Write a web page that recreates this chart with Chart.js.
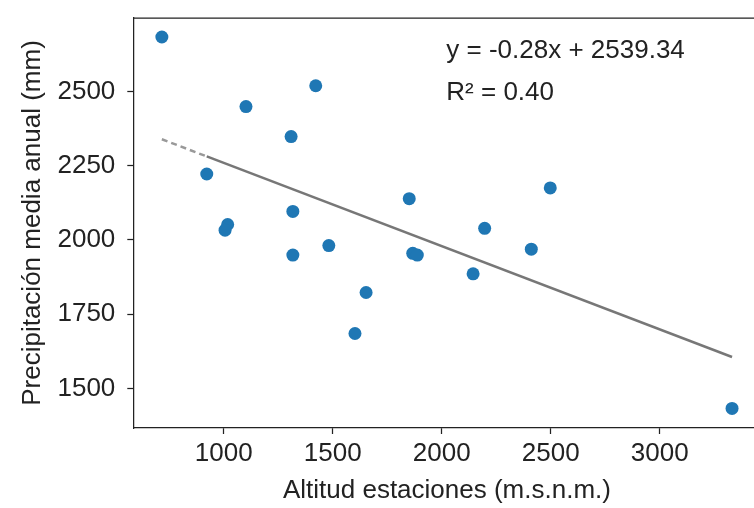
<!DOCTYPE html>
<html lang="es">
<head>
    <meta charset="UTF-8">
    <title>Precipitación vs altitud</title>
    <script src="https://cdn.jsdelivr.net/npm/chart.js"></script>
    <style>
        * { margin: 0; padding: 0; box-sizing: border-box; }
        html, body { width: 754px; height: 508px; overflow: hidden; background: #fff; }
        .chart-container { position: relative; width: 770px; height: 508px; }
    </style>
</head>
<body>
    <div class="chart-container">
        <canvas id="scatterChart"></canvas>
    </div>

    <script>
        // Estaciones: altitud (m.s.n.m.) y precipitación media anual (mm)
        const altitud = [716, 1422, 1102, 1309, 922, 1851, 1317, 1018, 1006, 1482,
                         1317, 1867, 1888, 1653, 1602, 2498, 2197, 2411, 2144, 3332];
        const precipitacion = [2683, 2519, 2449, 2348, 2222, 2139, 2096, 2052, 2033, 1981,
                               1949, 1955, 1949, 1823, 1685, 2175, 2039, 1969, 1886, 1433];

        // Recta de regresión
        const ajusteX = [716, 922, 3332];
        const ajusteY = [2339, 2281, 1606];

        const xTicks = [1000, 1500, 2000, 2500, 3000];
        const yTicks = [1500, 1750, 2000, 2250, 2500];

        const ecuacion = ['y = -0.28x + 2539.34', 'R² = 0.40'];

        const FONT = "'Liberation Sans', Arial, sans-serif";
        const TEXT_COLOR = '#222';
        const AXIS_COLOR = '#222';

        // top and right spines + equation text
        const frameAndText = {
            id: 'frameAndText',
            afterDatasetsDraw(chart) {
                const { ctx, chartArea: a } = chart;
                ctx.save();
                ctx.strokeStyle = AXIS_COLOR;
                ctx.lineWidth = 1.25;
                ctx.beginPath();
                ctx.moveTo(a.left, a.top);
                ctx.lineTo(a.right, a.top);
                ctx.lineTo(a.right, a.bottom);
                ctx.stroke();

                ctx.fillStyle = TEXT_COLOR;
                ctx.font = `26px ${FONT}`;
                ctx.textAlign = 'left';
                ctx.textBaseline = 'middle';
                const x = a.left + (a.right - a.left) * 0.499;
                const h = a.bottom - a.top;
                ctx.fillText(ecuacion[0], x, a.top + h * 0.08);
                ctx.fillText(ecuacion[1], x, a.top + h * 0.183);
                ctx.restore();
            }
        };

        const ctx = document.getElementById('scatterChart').getContext('2d');
        new Chart(ctx, {
            type: 'scatter',
            data: {
                datasets: [
                    {
                        type: 'line',
                        label: 'Ajuste',
                        data: ajusteX.map((x, i) => ({ x: x, y: ajusteY[i] })),
                        borderColor: '#777',
                        borderWidth: 2.5,
                        pointRadius: 0,
                        fill: false,
                        order: 0,
                        segment: {
                            borderDash: c => c.p0DataIndex === 0 ? [6, 4] : undefined,
                            borderColor: c => c.p0DataIndex === 0 ? '#999' : undefined
                        }
                    },
                    {
                        label: 'Estaciones',
                        data: altitud.map((x, i) => ({ x: x, y: precipitacion[i] })),
                        backgroundColor: '#1f77b4',
                        borderColor: '#1f77b4',
                        borderWidth: 0,
                        pointRadius: 6.5,
                        order: 1
                    }
                ]
            },
            options: {
                responsive: true,
                maintainAspectRatio: false,
                animation: false,
                layout: {
                    padding: { top: 18, right: 9.4, left: 0, bottom: 0 }
                },
                plugins: {
                    legend: { display: false },
                    tooltip: { enabled: false }
                },
                scales: {
                    x: {
                        type: 'linear',
                        min: 585,
                        max: 3463,
                        afterBuildTicks: s => { s.ticks = xTicks.map(v => ({ value: v })); },
                        afterFit: s => {
                            s.height = 80;
                            s.paddingLeft = 0;
                            s.paddingRight = 0;
                        },
                        grid: {
                            display: true,
                            drawOnChartArea: false,
                            drawTicks: true,
                            tickLength: 6,
                            tickColor: AXIS_COLOR,
                            tickWidth: 1.25
                        },
                        border: { display: true, color: AXIS_COLOR, width: 1.25 },
                        ticks: {
                            color: TEXT_COLOR,
                            padding: 4,
                            maxRotation: 0,
                            font: { family: FONT, size: 26 },
                            callback: v => String(v)
                        },
                        title: {
                            display: true,
                            text: 'Altitud estaciones (m.s.n.m.)',
                            color: TEXT_COLOR,
                            font: { family: FONT, size: 26 },
                            padding: { top: 0, bottom: 2 }
                        }
                    },
                    y: {
                        type: 'linear',
                        min: 1367,
                        max: 2747,
                        afterBuildTicks: s => { s.ticks = yTicks.map(v => ({ value: v })); },
                        afterFit: s => {
                            s.width = 133.3;
                            s.paddingTop = 0;
                            s.paddingBottom = 0;
                        },
                        grid: {
                            display: true,
                            drawOnChartArea: false,
                            drawTicks: true,
                            tickLength: 6,
                            tickColor: AXIS_COLOR,
                            tickWidth: 1.25
                        },
                        border: { display: true, color: AXIS_COLOR, width: 1.25 },
                        ticks: {
                            color: TEXT_COLOR,
                            padding: 12,
                            font: { family: FONT, size: 26 },
                            callback: v => String(v)
                        },
                        title: {
                            display: true,
                            text: 'Precipitación media anual (mm)',
                            color: TEXT_COLOR,
                            font: { family: FONT, size: 26 },
                            padding: { top: 17, bottom: 0 }
                        }
                    }
                }
            },
            plugins: [frameAndText]
        });
    </script>
</body>
</html>
